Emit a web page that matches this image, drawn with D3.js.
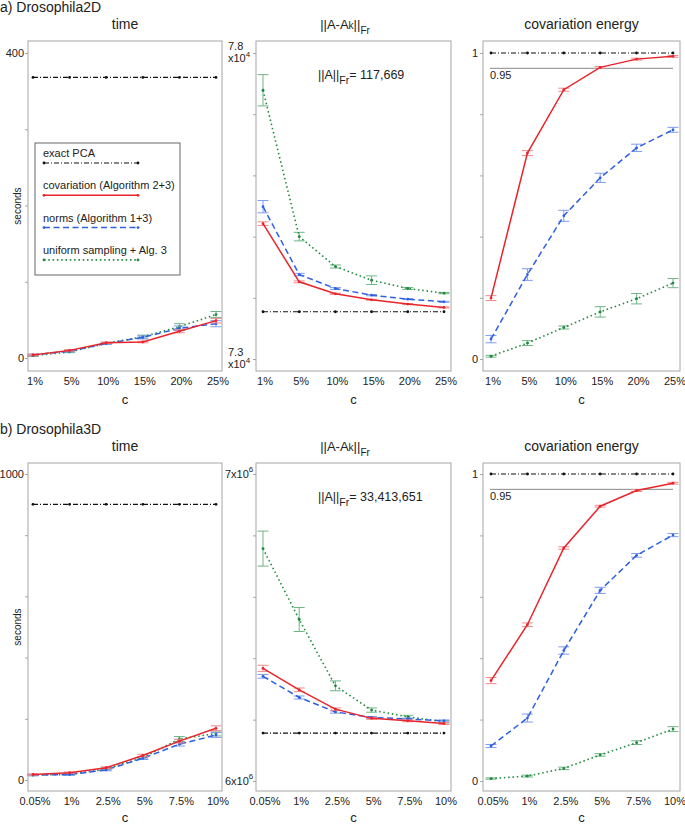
<!DOCTYPE html>
<html><head><meta charset="utf-8">
<script src="https://cdn.jsdelivr.net/npm/d3@7"></script>
<style>body{margin:0;background:#fff}svg{display:block}text{font-family:"Liberation Sans",Arial,sans-serif}</style>
</head><body>
<svg id="c" width="685" height="825"></svg>
<script>
// ---------- data ----------
const cats2D = ["1%","5%","10%","15%","20%","25%"];
const cats3D = ["0.05%","1%","2.5%","5%","7.5%","10%"];

// Drosophila2D time (seconds)
const time2D_exact = [368,368,368,368,368,368];
const time2D_cov   = [4,10,20,21,35,49];
const time2D_cov_err = [1,1,1,1,2,3];
const time2D_norm  = [4,9,19,27,39,45];
const time2D_norm_err = [1,1,1,2,3,4];
const time2D_unif  = [3,8,19,28,41,57];
const time2D_unif_err = [1,1,1,2,4,4];

// Drosophila2D ||A-Ak||Fr
const fro2D_exact = [73772,73772,73772,73772,73772,73772];
const fro2D_cov   = [75212,74261,74065,73967,73897,73842];
const fro2D_cov_err = [30,15,10,8,8,8];
const fro2D_norm  = [75489,74380,74152,74043,73978,73935];
const fro2D_norm_err = [100,20,15,10,8,8];
const fro2D_unif  = [77391,75000,74511,74288,74152,74076];
const fro2D_unif_err = [255,70,25,70,15,10];

// Drosophila2D covariation energy
const en2D_exact = [1,1,1,1,1,1];
const en2D_cov   = [0.199,0.673,0.880,0.953,0.980,0.989];
const en2D_cov_err = [0.008,0.008,0.005,0.003,0.003,0.003];
const en2D_norm  = [0.065,0.276,0.468,0.592,0.690,0.749];
const en2D_norm_err = [0.012,0.019,0.018,0.015,0.012,0.008];
const en2D_unif  = [0.009,0.052,0.103,0.154,0.197,0.248];
const en2D_unif_err = [0.003,0.008,0.005,0.017,0.017,0.015];

// Drosophila3D time (seconds)
const time3D_exact = [901,901,901,901,901,901];
const time3D_cov   = [18,24,40,80,127,169];
const time3D_cov_err = [2,2,3,4,6,8];
const time3D_norm  = [16,18,33,71,117,147];
const time3D_norm_err = [2,2,3,4,6,8];
const time3D_unif  = [16,18,36,73,134,152];
const time3D_unif_err = [2,2,3,4,8,8];

// Drosophila3D ||A-Ak||Fr
const fro3D_exact = [6156000,6156000,6156000,6156000,6156000,6156000];
const fro3D_cov   = [6367000,6297000,6234000,6204000,6196000,6187000];
const fro3D_cov_err = [10000,6000,4000,3000,3000,3000];
const fro3D_norm  = [6341000,6272000,6225000,6207000,6202000,6196000];
const fro3D_norm_err = [6000,5000,4000,3000,3000,3000];
const fro3D_unif  = [6757000,6526000,6310000,6231000,6209000,6193000];
const fro3D_unif_err = [57000,39000,16000,7000,5000,4000];

// Drosophila3D covariation energy
const en3D_exact = [1,1,1,1,1,1];
const en3D_cov   = [0.327,0.509,0.759,0.895,0.946,0.970];
const en3D_cov_err = [0.01,0.006,0.004,0.003,0.003,0.003];
const en3D_norm  = [0.114,0.205,0.425,0.621,0.735,0.801];
const en3D_norm_err = [0.005,0.013,0.012,0.010,0.006,0.005];
const en3D_unif  = [0.008,0.016,0.041,0.085,0.125,0.169];
const en3D_unif_err = [0.002,0.003,0.004,0.004,0.006,0.008];

const legendLabels = ["exact PCA","covariation (Algorithm 2+3)","norms (Algorithm 1+3)","uniform sampling + Alg. 3"];

// ---------- styles ----------
const S = {
  exact:{c:"#111", err:"#111", dash:"5,2,1,2", w:1.2},
  cov:{c:"#e8252b", err:"#f08a8c", dash:null, w:1.5},
  norm:{c:"#2f5fe3", err:"#7f9cf0", dash:"6,3.5", w:1.5},
  unif:{c:"#1f8a3c", err:"#6fb585", dash:"1.5,2.8", w:1.6}
};

const svg = d3.select("#c");
const FONT = "Liberation Sans, Arial, sans-serif";

function panel(o){
  const g = svg.append("g");
  const x = d3.scalePoint().domain(o.cats).range([o.px0,o.px1]);
  const y = d3.scaleLinear().domain(o.dom).range([o.yb,o.yt]);
  g.append("rect").attr("x",o.fx0).attr("y",o.fy0).attr("width",o.fx1-o.fx0).attr("height",o.fy1-o.fy0)
    .attr("fill","none").attr("stroke","#a6a6a6").attr("stroke-width",1);
  const ya = d3.axisLeft(y).tickValues(o.ticks).tickSize(3).tickFormat("");
  const yg = g.append("g").attr("transform",`translate(${o.fx0},0)`).call(ya);
  yg.select(".domain").remove();
  yg.selectAll("line").attr("stroke","#a6a6a6");
  const xa = d3.axisBottom(x).tickSize(0).tickPadding(0);
  const xg = g.append("g").attr("transform",`translate(1.5,${o.fy1+14})`).call(xa);
  xg.select(".domain").remove();
  xg.selectAll("text").attr("font-size",11).attr("font-family",FONT).attr("fill","#222").attr("dy","0");
  g.append("text").attr("x",(o.fx0+o.fx1)/2).attr("y",Math.min(o.fy1+33,822)).attr("text-anchor","middle")
    .attr("font-size",13).attr("fill","#222").text("c");
  if(o.title){
    g.append("text").attr("x",(o.fx0+o.fx1)/2).attr("y",o.fy0-12).attr("text-anchor","middle")
      .attr("font-size",14).attr("fill","#222").text(o.title);
  }
  const order = ["exact","unif","norm","cov"];
  order.forEach(k=>{
    const vals = o.series[k]; const errs = o.errs[k]; const st = S[k];
    const pts = o.cats.map((c,i)=>({c,v:vals[i],e:errs?errs[i]:0}));
    if(errs){
      const eg = g.append("g");
      pts.forEach(p=>{
        const y1=y(p.v+p.e), y2=y(p.v-p.e), xx=x(p.c);
        eg.append("line").attr("x1",xx).attr("x2",xx).attr("y1",y1).attr("y2",y2).attr("stroke",st.err).attr("stroke-width",1);
        [y1,y2].forEach(yy=>eg.append("line").attr("x1",xx-5.5).attr("x2",xx+5.5).attr("y1",yy).attr("y2",yy).attr("stroke",st.err).attr("stroke-width",1));
      });
    }
    const line = d3.line().x(d=>x(d.c)).y(d=>y(d.v));
    const p = g.append("path").attr("d",line(pts)).attr("fill","none").attr("stroke",st.c).attr("stroke-width",st.w);
    if(st.dash) p.attr("stroke-dasharray",st.dash);
    g.selectAll(null).data(pts).enter().append("circle").attr("cx",d=>x(d.c)).attr("cy",d=>y(d.v)).attr("r",1.4).attr("fill",st.c);
  });
  return {g,x,y};
}

function buildRow(r){
  const cats = r.cats;
  const p1 = panel({cats, fx0:28,fx1:222,fy0:r.top,fy1:r.bot, px0:33,px1:216, dom:[0,r.tmax], yb:r.yb, yt:r.yt,
    ticks:d3.range(0,r.tmax+1,r.tstep), title:"time",
    series:{exact:r.time[0],cov:r.time[1],norm:r.time[2],unif:r.time[3]},
    errs:{exact:null,cov:r.timeE[0],norm:r.timeE[1],unif:r.timeE[2]}});
  p1.g.append("text").attr("x",24).attr("y",r.yt+4).attr("text-anchor","end").attr("font-size",11).attr("fill","#222").text(String(r.tmax));
  p1.g.append("text").attr("x",24).attr("y",r.yb+4).attr("text-anchor","end").attr("font-size",11).attr("fill","#222").text("0");
  p1.g.append("text").attr("transform",`translate(21,${(r.top+r.bot)/2}) rotate(-90)`).attr("text-anchor","middle")
    .attr("font-size",10).attr("fill","#222").text("seconds");
  const p2 = panel({cats, fx0:256,fx1:451,fy0:r.top,fy1:r.bot, px0:263,px1:444, dom:r.fdom, yb:r.yb+1, yt:r.yt,
    ticks:r.fticks, title:null,
    series:{exact:r.fro[0],cov:r.fro[1],norm:r.fro[2],unif:r.fro[3]},
    errs:{exact:null,cov:r.froE[0],norm:r.froE[1],unif:r.froE[2]}});
  const tt = p2.g.append("text").attr("x",345).attr("y",r.top-12).attr("text-anchor","middle").attr("font-size",13).attr("fill","#222");
  tt.append("tspan").text("||A-A");
  tt.append("tspan").attr("font-size",10).text("k");
  tt.append("tspan").text("||");
  tt.append("tspan").attr("font-size",10).attr("dy",5).text("Fr");
  const an = p2.g.append("text").attr("x",318).attr("y",r.top+38).attr("font-size",12.5).attr("fill","#222");
  an.append("tspan").text("||A||");
  an.append("tspan").attr("font-size",10.5).attr("dy",5).text("Fr");
  an.append("tspan").attr("dy",-5).text("= "+r.norm);
  r.fLabels(p2);
  const p3 = panel({cats, fx0:483,fx1:680,fy0:r.top,fy1:r.bot, px0:491,px1:673, dom:[0,1], yb:r.yb+1, yt:r.yt,
    ticks:[0,0.2,0.4,0.6,0.8,1], title:"covariation energy",
    series:{exact:r.en[0],cov:r.en[1],norm:r.en[2],unif:r.en[3]},
    errs:{exact:null,cov:r.enE[0],norm:r.enE[1],unif:r.enE[2]}});
  p3.g.insert("line","path").attr("x1",490).attr("x2",673).attr("y1",p3.y(0.95)).attr("y2",p3.y(0.95)).attr("stroke","#888").attr("stroke-width",1);
  p3.g.append("text").attr("x",490).attr("y",p3.y(0.95)+11).attr("font-size",11).attr("fill","#222").text("0.95");
  p3.g.append("text").attr("x",478).attr("y",r.yt+4).attr("text-anchor","end").attr("font-size",11).attr("fill","#222").text("1");
  p3.g.append("text").attr("x",478).attr("y",r.yb+5).attr("text-anchor","end").attr("font-size",11).attr("fill","#222").text("0");
  svg.append("text").attr("x",0).attr("y",r.top-29).attr("font-size",14).attr("fill","#222").text(r.label);
  return p1;
}

buildRow({label:"a) Drosophila2D", cats:cats2D, top:41, bot:371, yt:53, yb:358, tmax:400, tstep:100,
  time:[time2D_exact,time2D_cov,time2D_norm,time2D_unif], timeE:[time2D_cov_err,time2D_norm_err,time2D_unif_err],
  fro:[fro2D_exact,fro2D_cov,fro2D_norm,fro2D_unif], froE:[fro2D_cov_err,fro2D_norm_err,fro2D_unif_err],
  fdom:[73000,78000], fticks:d3.range(73000,78001,1000), norm:"117,669",
  en:[en2D_exact,en2D_cov,en2D_norm,en2D_unif], enE:[en2D_cov_err,en2D_norm_err,en2D_unif_err],
  fLabels:(p)=>{
    [[78000,"7.8"],[73000,"7.3"]].forEach(([v,l])=>{
      const yy=p.y(v);
      p.g.append("text").attr("x",228).attr("y",yy-3).attr("font-size",11).attr("fill","#222").text(l);
      const t=p.g.append("text").attr("x",228).attr("y",yy+9).attr("font-size",11).attr("fill","#222");
      t.append("tspan").text("x10");
      t.append("tspan").attr("font-size",8).attr("dy",-5).text("4");
    });
  }});

buildRow({label:"b) Drosophila3D", cats:cats3D, top:463, bot:791, yt:474, yb:780, tmax:1000, tstep:200,
  time:[time3D_exact,time3D_cov,time3D_norm,time3D_unif], timeE:[time3D_cov_err,time3D_norm_err,time3D_unif_err],
  fro:[fro3D_exact,fro3D_cov,fro3D_norm,fro3D_unif], froE:[fro3D_cov_err,fro3D_norm_err,fro3D_unif_err],
  fdom:[6000000,7000000], fticks:d3.range(6000000,7000001,200000), norm:"33,413,651",
  en:[en3D_exact,en3D_cov,en3D_norm,en3D_unif], enE:[en3D_cov_err,en3D_norm_err,en3D_unif_err],
  fLabels:(p)=>{
    [[7000000,"7x10"],[6000000,"6x10"]].forEach(([v,l])=>{
      const yy=p.y(v);
      const t=p.g.append("text").attr("x",225).attr("y",yy+4).attr("font-size",11).attr("fill","#222");
      t.append("tspan").text(l);
      t.append("tspan").attr("font-size",8).attr("dy",-6).text("6");
    });
  }});

// legend
const lg = svg.append("g");
lg.append("rect").attr("x",35).attr("y",143).attr("width",145).attr("height",132).attr("fill","#fff").attr("stroke","#666").attr("stroke-width",1);
const lkeys = ["exact","cov","norm","unif"];
lkeys.forEach((k,i)=>{
  const ty = 157 + i*32.3, ly = 163 + i*32.3, st=S[k];
  lg.append("text").attr("x",43).attr("y",ty).attr("font-size",11).attr("fill","#222").text(legendLabels[i]);
  const l = lg.append("line").attr("x1",44).attr("x2",138).attr("y1",ly).attr("y2",ly).attr("stroke",st.c).attr("stroke-width",st.w);
  if(st.dash) l.attr("stroke-dasharray",st.dash);
  [44,138].forEach(xx=>lg.append("circle").attr("cx",xx).attr("cy",ly).attr("r",1.4).attr("fill",st.c));
});
</script>
</body></html>
